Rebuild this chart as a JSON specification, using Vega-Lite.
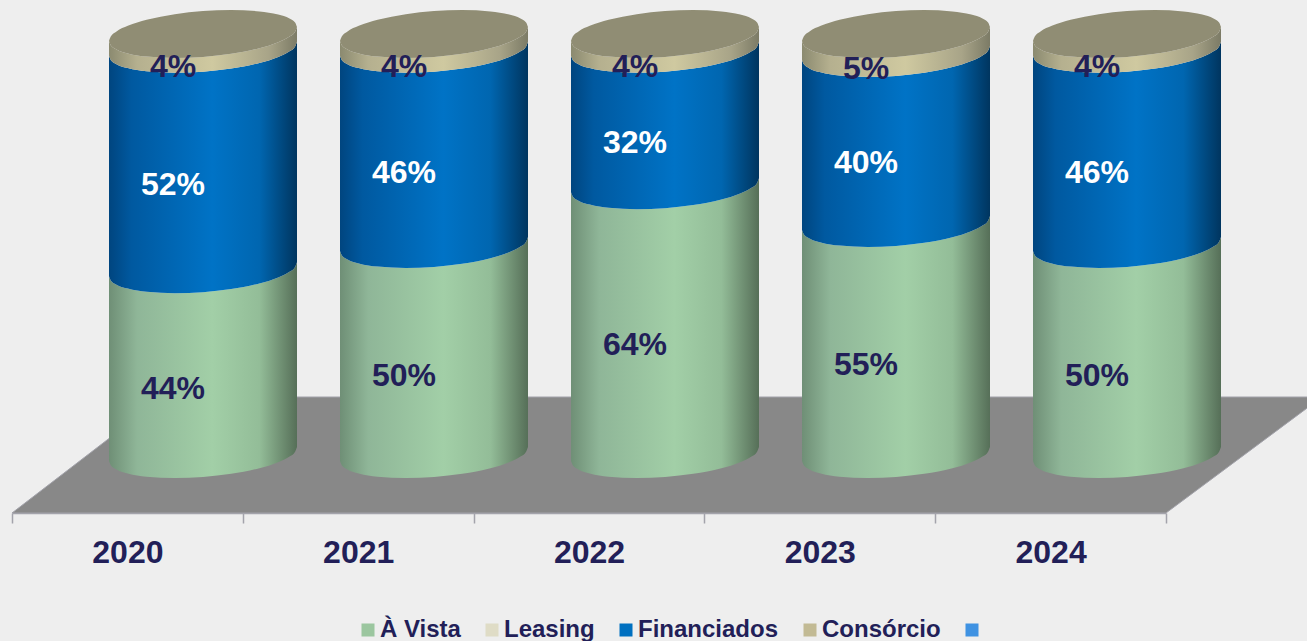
{
"$schema":"https://vega.github.io/schema/vega-lite/v6.json",
"width":1295,"height":513,
"autosize":{"type":"none"},
"padding":{"left":12,"top":0,"right":0,"bottom":128},
"background":"#eeeeee",
"view":{"stroke":null},
"config":{"font":"Liberation Sans"},
"datasets":{
"years":[{"year":"2020"},{"year":"2021"},{"year":"2022"},{"year":"2023"},{"year":"2024"}],
"floor":[{"d":-8.33,"x":0,"x2":1154},{"d":19.29,"x":151,"x2":1310}],
"series":[{"series":"À Vista"},{"series":"Leasing"},{"series":"Financiados"},{"series":"Consórcio"},{"series":" "}],
"labels":[
{"year":"2020","series":"À Vista","value":0.44,"x":161,"mid":21.4},
{"year":"2020","series":"Financiados","value":0.52,"x":161,"mid":70},
{"year":"2020","series":"Consórcio","value":0.04,"x":161,"mid":98.1},
{"year":"2021","series":"À Vista","value":0.50,"x":392,"mid":24.5},
{"year":"2021","series":"Financiados","value":0.46,"x":392,"mid":72.9},
{"year":"2021","series":"Consórcio","value":0.04,"x":392,"mid":98.1},
{"year":"2022","series":"À Vista","value":0.64,"x":623,"mid":31.9},
{"year":"2022","series":"Financiados","value":0.32,"x":623,"mid":80},
{"year":"2022","series":"Consórcio","value":0.04,"x":623,"mid":98.1},
{"year":"2023","series":"À Vista","value":0.55,"x":854,"mid":27.1},
{"year":"2023","series":"Financiados","value":0.40,"x":854,"mid":75.2},
{"year":"2023","series":"Consórcio","value":0.05,"x":854,"mid":97.6},
{"year":"2024","series":"À Vista","value":0.50,"x":1085,"mid":24.5},
{"year":"2024","series":"Financiados","value":0.46,"x":1085,"mid":72.9},
{"year":"2024","series":"Consórcio","value":0.04,"x":1085,"mid":98.1}
],
"cyl":[
{"year":"2020","x":97,"b":4.05,"v":48.05,"f":100.55,"c":104.05,"t":104.05},
{"year":"2020","x":98.9,"b":2.99,"v":46.99,"f":99.49,"c":102.99,"t":105.17},
{"year":"2020","x":104.5,"b":2.03,"v":46.03,"f":98.53,"c":102.03,"t":106.33},
{"year":"2020","x":115.8,"b":1.1,"v":45.1,"f":97.6,"c":101.1,"t":107.67},
{"year":"2020","x":134.6,"b":0.33,"v":44.33,"f":96.83,"c":100.33,"t":109.1},
{"year":"2020","x":162.8,"b":0,"v":44,"f":96.5,"c":100,"t":110.44},
{"year":"2020","x":191,"b":0.24,"v":44.24,"f":96.74,"c":100.24,"t":111.19},
{"year":"2020","x":219.2,"b":0.99,"v":44.99,"f":97.49,"c":100.99,"t":111.44},
{"year":"2020","x":247.4,"b":2.33,"v":46.33,"f":98.83,"c":102.33,"t":111.1},
{"year":"2020","x":266.2,"b":3.76,"v":47.76,"f":100.26,"c":103.76,"t":110.33},
{"year":"2020","x":277.5,"b":5.1,"v":49.1,"f":101.6,"c":105.1,"t":109.4},
{"year":"2020","x":283.1,"b":6.26,"v":50.26,"f":102.76,"c":106.26,"t":108.44},
{"year":"2020","x":285,"b":7.38,"v":51.38,"f":103.88,"c":107.38,"t":107.38},
{"year":"2021","x":328,"b":4.05,"v":54.05,"f":100.55,"c":104.05,"t":104.05},
{"year":"2021","x":329.9,"b":2.99,"v":52.99,"f":99.49,"c":102.99,"t":105.17},
{"year":"2021","x":335.5,"b":2.03,"v":52.03,"f":98.53,"c":102.03,"t":106.33},
{"year":"2021","x":346.8,"b":1.1,"v":51.1,"f":97.6,"c":101.1,"t":107.67},
{"year":"2021","x":365.6,"b":0.33,"v":50.33,"f":96.83,"c":100.33,"t":109.1},
{"year":"2021","x":393.8,"b":0,"v":50,"f":96.5,"c":100,"t":110.44},
{"year":"2021","x":422,"b":0.24,"v":50.24,"f":96.74,"c":100.24,"t":111.19},
{"year":"2021","x":450.2,"b":0.99,"v":50.99,"f":97.49,"c":100.99,"t":111.44},
{"year":"2021","x":478.4,"b":2.33,"v":52.33,"f":98.83,"c":102.33,"t":111.1},
{"year":"2021","x":497.2,"b":3.76,"v":53.76,"f":100.26,"c":103.76,"t":110.33},
{"year":"2021","x":508.5,"b":5.1,"v":55.1,"f":101.6,"c":105.1,"t":109.4},
{"year":"2021","x":514.1,"b":6.26,"v":56.26,"f":102.76,"c":106.26,"t":108.44},
{"year":"2021","x":516,"b":7.38,"v":57.38,"f":103.88,"c":107.38,"t":107.38},
{"year":"2022","x":559,"b":4.05,"v":68.05,"f":100.55,"c":104.05,"t":104.05},
{"year":"2022","x":560.9,"b":2.99,"v":66.99,"f":99.49,"c":102.99,"t":105.17},
{"year":"2022","x":566.5,"b":2.03,"v":66.03,"f":98.53,"c":102.03,"t":106.33},
{"year":"2022","x":577.8,"b":1.1,"v":65.1,"f":97.6,"c":101.1,"t":107.67},
{"year":"2022","x":596.6,"b":0.33,"v":64.33,"f":96.83,"c":100.33,"t":109.1},
{"year":"2022","x":624.8,"b":0,"v":64,"f":96.5,"c":100,"t":110.44},
{"year":"2022","x":653,"b":0.24,"v":64.24,"f":96.74,"c":100.24,"t":111.19},
{"year":"2022","x":681.2,"b":0.99,"v":64.99,"f":97.49,"c":100.99,"t":111.44},
{"year":"2022","x":709.4,"b":2.33,"v":66.33,"f":98.83,"c":102.33,"t":111.1},
{"year":"2022","x":728.2,"b":3.76,"v":67.76,"f":100.26,"c":103.76,"t":110.33},
{"year":"2022","x":739.5,"b":5.1,"v":69.1,"f":101.6,"c":105.1,"t":109.4},
{"year":"2022","x":745.1,"b":6.26,"v":70.26,"f":102.76,"c":106.26,"t":108.44},
{"year":"2022","x":747,"b":7.38,"v":71.38,"f":103.88,"c":107.38,"t":107.38},
{"year":"2023","x":790,"b":4.05,"v":59.05,"f":99.55,"c":104.05,"t":104.05},
{"year":"2023","x":791.9,"b":2.99,"v":57.99,"f":98.49,"c":102.99,"t":105.17},
{"year":"2023","x":797.5,"b":2.03,"v":57.03,"f":97.53,"c":102.03,"t":106.33},
{"year":"2023","x":808.8,"b":1.1,"v":56.1,"f":96.6,"c":101.1,"t":107.67},
{"year":"2023","x":827.6,"b":0.33,"v":55.33,"f":95.83,"c":100.33,"t":109.1},
{"year":"2023","x":855.8,"b":0,"v":55,"f":95.5,"c":100,"t":110.44},
{"year":"2023","x":884,"b":0.24,"v":55.24,"f":95.74,"c":100.24,"t":111.19},
{"year":"2023","x":912.2,"b":0.99,"v":55.99,"f":96.49,"c":100.99,"t":111.44},
{"year":"2023","x":940.4,"b":2.33,"v":57.33,"f":97.83,"c":102.33,"t":111.1},
{"year":"2023","x":959.2,"b":3.76,"v":58.76,"f":99.26,"c":103.76,"t":110.33},
{"year":"2023","x":970.5,"b":5.1,"v":60.1,"f":100.6,"c":105.1,"t":109.4},
{"year":"2023","x":976.1,"b":6.26,"v":61.26,"f":101.76,"c":106.26,"t":108.44},
{"year":"2023","x":978,"b":7.38,"v":62.38,"f":102.88,"c":107.38,"t":107.38},
{"year":"2024","x":1021,"b":4.05,"v":54.05,"f":100.55,"c":104.05,"t":104.05},
{"year":"2024","x":1022.9,"b":2.99,"v":52.99,"f":99.49,"c":102.99,"t":105.17},
{"year":"2024","x":1028.5,"b":2.03,"v":52.03,"f":98.53,"c":102.03,"t":106.33},
{"year":"2024","x":1039.8,"b":1.1,"v":51.1,"f":97.6,"c":101.1,"t":107.67},
{"year":"2024","x":1058.6,"b":0.33,"v":50.33,"f":96.83,"c":100.33,"t":109.1},
{"year":"2024","x":1086.8,"b":0,"v":50,"f":96.5,"c":100,"t":110.44},
{"year":"2024","x":1115,"b":0.24,"v":50.24,"f":96.74,"c":100.24,"t":111.19},
{"year":"2024","x":1143.2,"b":0.99,"v":50.99,"f":97.49,"c":100.99,"t":111.44},
{"year":"2024","x":1171.4,"b":2.33,"v":52.33,"f":98.83,"c":102.33,"t":111.1},
{"year":"2024","x":1190.2,"b":3.76,"v":53.76,"f":100.26,"c":103.76,"t":110.33},
{"year":"2024","x":1201.5,"b":5.1,"v":55.1,"f":101.6,"c":105.1,"t":109.4},
{"year":"2024","x":1207.1,"b":6.26,"v":56.26,"f":102.76,"c":106.26,"t":108.44},
{"year":"2024","x":1209,"b":7.38,"v":57.38,"f":103.88,"c":107.38,"t":107.38}
]},
"layer":[
{"data":{"name":"floor"},
"mark":{"type":"area","orient":"horizontal","color":"#888888","stroke":"#a3a3ab","strokeWidth":1},
"encoding":{
"y":{"field":"d","type":"quantitative","scale":{"domain":[-8.33,113.81],"nice":false,"zero":false},"axis":null},
"x":{"field":"x","type":"quantitative","scale":{"domain":[0,1295],"nice":false,"zero":false},"axis":null},
"x2":{"field":"x2"}}},
{"data":{"name":"years"},
"mark":{"type":"point","opacity":0},
"encoding":{
"x":{"field":"year","type":"nominal","scale":{"type":"band","range":[0,1154]},
"axis":{"title":null,"labelAngle":0,"tickBand":"extent","domainColor":"#a3a3ab","domainWidth":1.5,"tickColor":"#a3a3ab","tickWidth":1.5,"tickSize":10,"labelFont":"Liberation Sans","labelFontWeight":"bold","labelFontSize":32,"labelColor":"#221f58","labelPadding":14,"grid":false}}}},
{"data":{"name":"cyl"},
"mark":{"type":"area","interpolate":"monotone","color":{"gradient":"linear","x1":0,"x2":1,"y1":0,"y2":0,"stops":[{"offset":0,"color":"#6f8f76"},{"offset":0.15,"color":"#8fb698"},{"offset":0.55,"color":"#a2cfa7"},{"offset":0.8,"color":"#93bd98"},{"offset":1,"color":"#566f58"}]}},
"encoding":{"detail":{"field":"year"},
"x":{"field":"x","type":"quantitative","scale":{"domain":[0,1295],"nice":false,"zero":false},"axis":null},
"y":{"field":"b","type":"quantitative","scale":{"domain":[-8.33,113.81],"nice":false,"zero":false},"axis":null},
"y2":{"field":"v"}}},
{"data":{"name":"cyl"},
"mark":{"type":"area","interpolate":"monotone","color":{"gradient":"linear","x1":0,"x2":1,"y1":0,"y2":0,"stops":[{"offset":0,"color":"#00457f"},{"offset":0.12,"color":"#0059a0"},{"offset":0.55,"color":"#0073c6"},{"offset":0.8,"color":"#0066b0"},{"offset":1,"color":"#00355f"}]}},
"encoding":{"detail":{"field":"year"},
"x":{"field":"x","type":"quantitative","scale":{"domain":[0,1295],"nice":false,"zero":false},"axis":null},
"y":{"field":"v","type":"quantitative","scale":{"domain":[-8.33,113.81],"nice":false,"zero":false},"axis":null},
"y2":{"field":"f"}}},
{"data":{"name":"cyl"},
"mark":{"type":"area","interpolate":"monotone","color":{"gradient":"linear","x1":0,"x2":1,"y1":0,"y2":0,"stops":[{"offset":0,"color":"#8b8a70"},{"offset":0.15,"color":"#b5b08f"},{"offset":0.55,"color":"#cfc9a0"},{"offset":0.85,"color":"#a8a488"},{"offset":1,"color":"#7c7b66"}]}},
"encoding":{"detail":{"field":"year"},
"x":{"field":"x","type":"quantitative","scale":{"domain":[0,1295],"nice":false,"zero":false},"axis":null},
"y":{"field":"f","type":"quantitative","scale":{"domain":[-8.33,113.81],"nice":false,"zero":false},"axis":null},
"y2":{"field":"c"}}},
{"data":{"name":"cyl"},
"mark":{"type":"area","interpolate":"monotone","color":"#908d74"},
"encoding":{"detail":{"field":"year"},
"x":{"field":"x","type":"quantitative","scale":{"domain":[0,1295],"nice":false,"zero":false},"axis":null},
"y":{"field":"c","type":"quantitative","scale":{"domain":[-8.33,113.81],"nice":false,"zero":false},"axis":null},
"y2":{"field":"t"}}},
{"data":{"name":"labels"},
"mark":{"type":"text","font":"Liberation Sans","fontWeight":"bold","fontSize":32,"baseline":"middle","align":"center","dy":1},
"encoding":{
"x":{"field":"x","type":"quantitative","scale":{"domain":[0,1295],"nice":false,"zero":false},"axis":null},
"y":{"field":"mid","type":"quantitative","scale":{"domain":[-8.33,113.81],"nice":false,"zero":false},"axis":null},
"text":{"field":"value","type":"quantitative","format":".0%"},
"color":{"condition":{"test":"datum.series==='Financiados'","value":"#ffffff"},"value":"#221f58"}}},
{"data":{"name":"series"},
"mark":{"type":"square","opacity":0},
"encoding":{
"color":{"field":"series","type":"nominal",
"scale":{"domain":["À Vista","Leasing","Financiados","Consórcio"," "],"range":["#9bc69f","#dfdcc6","#0070c0","#c2ba94","#3f92e2"]},
"legend":{"title":null,"orient":"none","direction":"horizontal","columns":5,"legendX":344,"legendY":618,"symbolType":"square","symbolSize":169,"symbolOpacity":1,"symbolStrokeWidth":0,"labelFont":"Liberation Sans","labelFontWeight":"bold","labelFontSize":24,"labelColor":"#221f58","labelOffset":0,"columnPadding":19,"labelLimit":300}}}}
],
"resolve":{"scale":{"x":"independent"},"axis":{"x":"independent"}}
}
